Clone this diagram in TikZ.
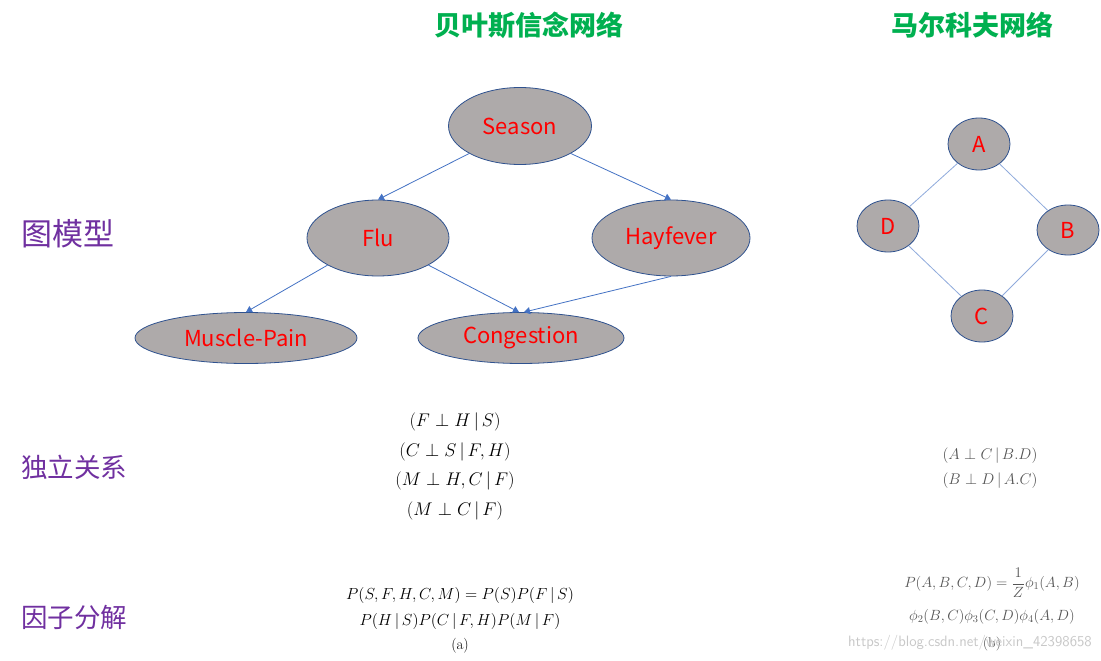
\RequirePackage{fix-cm}
\documentclass[tikz,border=0pt]{standalone}
\usepackage{amsmath}
\usepackage{fontspec}
\newfontfamily\cjk{Noto Sans CJK SC}
\usetikzlibrary{arrows.meta,shapes.geometric}
\definecolor{titlegreen}{RGB}{0,176,80}
\definecolor{labpurple}{RGB}{112,48,160}
\definecolor{nodegray}{RGB}{174,170,170}
\definecolor{nodeborder}{RGB}{47,82,143}
\definecolor{arrowblue}{RGB}{68,114,196}
\definecolor{edgeblue}{RGB}{143,170,220}
\definecolor{fadedtext}{RGB}{85,85,85}
\definecolor{wmgray}{RGB}{200,200,200}
\tikzset{
  bn/.style={ellipse, draw=nodeborder, fill=nodegray, line width=0.8pt, inner sep=0pt,
    text=red, font=\cjk\fontsize{22}{26}\selectfont},
  mn/.style={bn, minimum width=62pt, minimum height=52pt},
  arr/.style={draw=arrowblue, line width=0.8pt, -{Triangle[length=6pt,width=7pt]}},
  edge/.style={draw=edgeblue, line width=0.8pt},
  title/.style={text=titlegreen, font=\cjk\bfseries\fontsize{27}{31}\selectfont},
  rowlab/.style={text=labpurple, font=\cjk\fontsize{26.5}{31}\selectfont},
  fml/.style={font=\fontsize{18.3}{21}\selectfont, inner sep=0pt},
  fmls/.style={text=fadedtext, font=\fontsize{15.5}{18}\selectfont, inner sep=0pt}
}
\begin{document}
\begin{tikzpicture}[x=1pt,y=-1pt]
\useasboundingbox[fill=white] (0,0) rectangle (1101,661);
% titles
\node[title] (t1) at (529,25) {贝叶斯信念网络};
\node[title] (t2) at (972,25) {马尔科夫网络};
% row labels
\node[rowlab, font=\cjk\fontsize{31}{36}\selectfont] (r1) at (68,234) {图模型};
\node[rowlab] (r2) at (74,467) {独立关系};
\node[rowlab] (r3) at (74,617) {因子分解};
% Bayesian network
\node[bn, minimum width=143pt, minimum height=77pt] (season) at (520,126) {Season};
\node[bn, minimum width=142pt, minimum height=76pt] (flu) at (378,238) {Flu};
\node[bn, minimum width=158pt, minimum height=76pt] (hay) at (671,238) {Hayfever};
\node[bn, minimum width=222pt, minimum height=51pt] (muscle) at (246,338) {Muscle-Pain};
\node[bn, minimum width=206pt, minimum height=51pt] (cong) at (521,338) {Congestion};
\draw[arr] (season.south west) -- (flu.north);
\draw[arr] (season.south east) -- (hay.north);
\draw[arr] (flu.south west) -- (muscle.north);
\draw[arr] (flu.south east) -- ([xshift=-2pt]cong.north);
\draw[arr] (hay.south) -- ([xshift=3pt]cong.north);
% Markov network
\node[mn] (A) at (979,144) {A};
\node[mn] (D) at (888,226) {D};
\node[mn, minimum height=50pt] (B) at (1068,230) {B};
\node[mn] (C) at (982,316) {C};
\draw[edge] (A) -- (D);
\draw[edge] (A) -- (B);
\draw[edge] (D) -- (C);
\draw[edge] (B) -- (C);
% independence relations
\node[fml] (i1) at (455,422) {$(F\perp H\,|\,S)$};
\node[fml] (i2) at (455,452) {$(C\perp S\,|\,F,H)$};
\node[fml] (i3) at (455,481) {$(M\perp H,C\,|\,F)$};
\node[fml] (i4) at (455,511) {$(M\perp C\,|\,F)$};
\node[fmls] (j1) at (990,456) {$(A\perp C\,|\,B.D)$};
\node[fmls] (j2) at (990,481) {$(B\perp D\,|\,A.C)$};
% factorisation
\node[fml, font=\fontsize{16}{19}\selectfont] (f1) at (460,595) {$P(S,F,H,C,M)=P(S)P(F\,|\,S)$};
\node[fml, font=\fontsize{16}{19}\selectfont] (f2) at (460,621) {$P(H\,|\,S)P(C\,|\,F,H)P(M\,|\,F)$};
\node[fml, font=\fontsize{15}{18}\selectfont] (fa) at (460,646) {(a)};
\node[fmls, font=\fontsize{14.8}{17}\selectfont] (g1) at (992,583) {$P(A,B,C,D)=\dfrac{1}{Z}\phi_1(A,B)$};
\node[fmls, font=\fontsize{14.8}{17}\selectfont] (g2) at (992,617) {$\phi_2(B,C)\phi_3(C,D)\phi_4(A,D)$};
\node[fmls, font=\fontsize{14}{17}\selectfont] (gb) at (992,644) {(b)};
% watermark
\node[anchor=east, text=wmgray, font=\fontsize{15}{18}\selectfont\sffamily, inner sep=0pt] (wm) at (1092,643) {https://blog.csdn.net/weixin\_42398658};
\end{tikzpicture}
\end{document}
